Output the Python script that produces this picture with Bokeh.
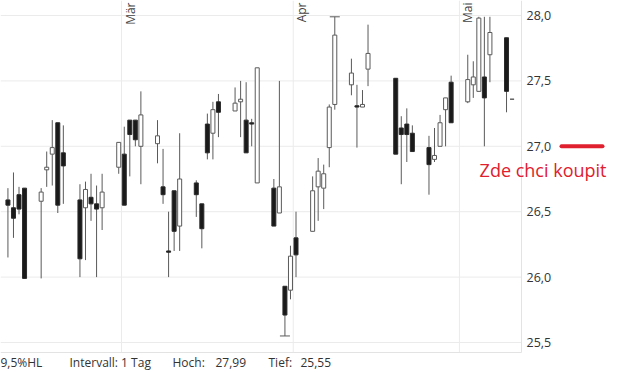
import math
import numpy as np
import pandas as pd
from bokeh.plotting import figure
from bokeh.models import Range1d, ColumnDataSource
from bokeh.core.properties import value
from bokeh.embed import file_html
from bokeh.resources import INLINE

# ---------------- data ----------------
dates = ["2022-02-08", "2022-02-09", "2022-02-10", "2022-02-11", "2022-02-14",
         "2022-02-15", "2022-02-16", "2022-02-17", "2022-02-18", "2022-02-21",
         "2022-02-22", "2022-02-23", "2022-02-24", "2022-02-25", "2022-02-28",
         "2022-03-01", "2022-03-02", "2022-03-03", "2022-03-04", "2022-03-07",
         "2022-03-08", "2022-03-09", "2022-03-10", "2022-03-11", "2022-03-14",
         "2022-03-15", "2022-03-16", "2022-03-17", "2022-03-18", "2022-03-21",
         "2022-03-22", "2022-03-23", "2022-03-24", "2022-03-25", "2022-03-28",
         "2022-03-29", "2022-03-30", "2022-03-31", "2022-04-01", "2022-04-04",
         "2022-04-05", "2022-04-06", "2022-04-07", "2022-04-08", "2022-04-11",
         "2022-04-12", "2022-04-13", "2022-04-14", "2022-04-19", "2022-04-20",
         "2022-04-21", "2022-04-22", "2022-04-25", "2022-04-26", "2022-04-27",
         "2022-04-28", "2022-04-29", "2022-05-02", "2022-05-03", "2022-05-04",
         "2022-05-05", "2022-05-06", "2022-05-09", "2022-05-10"]
open_ = [26.59, 26.53, 26.63, 26.68, 26.58, 26.82, 26.94, 27.18, 26.95, 26.59,
         26.53, 26.61, 26.56, 26.53, 26.84, 26.94, 27.20, 27.20, 27.00, 27.02,
         26.69, 26.20, 26.66, 26.39, 26.72, 26.56, 27.17, 27.10, 27.34, 27.27,
         27.34, 27.20, 27.18, 26.72, 26.68, 26.49, 25.93, 25.90, 26.30, 26.35,
         26.69, 26.68, 26.99, 27.32, 27.47, 27.31, 27.30, 27.59, 27.52, 27.14,
         27.17, 27.10, 26.99, 26.90, 27.00, 27.28, 27.49, 27.34, 27.47, 27.42,
         27.53, 27.70, 27.83, 27.36]
high = [26.68, 26.80, 26.69, 26.68, 26.68, 26.96, 27.20, 27.18, 27.16, 26.71,
        26.73, 26.79, 26.70, 26.79, 27.03, 27.15, 27.20, 27.20, 27.42, 27.20,
        26.98, 26.50, 26.66, 27.10, 26.74, 26.56, 27.25, 27.34, 27.40, 27.45,
        27.50, 27.49, 27.21, 27.60, 26.75, 27.50, 25.93, 26.24, 26.50, 26.77,
        26.91, 26.86, 27.32, 27.99, 27.67, 27.47, 27.43, 27.93, 27.52, 27.23,
        27.29, 27.16, 27.08, 27.14, 27.24, 27.37, 27.54, 27.70, 27.65, 27.99,
        27.99, 27.99, 27.83, 27.36]
low = [26.15, 26.30, 26.48, 25.99, 25.99, 26.69, 26.70, 26.49, 26.56, 26.00,
       26.13, 26.43, 26.00, 26.36, 26.79, 26.55, 26.77, 27.00, 26.71, 26.87,
       26.56, 26.00, 26.20, 26.20, 26.46, 26.22, 26.90, 26.90, 27.07, 27.27,
       27.07, 26.95, 27.00, 26.72, 26.39, 26.49, 25.55, 25.83, 26.00, 26.35,
       26.43, 26.52, 26.84, 27.28, 27.39, 26.99, 27.30, 27.46, 26.94, 26.71,
       26.88, 26.96, 26.63, 26.88, 27.00, 27.00, 27.18, 27.33, 27.37, 27.42,
       27.00, 27.49, 27.26, 27.36]
close = [26.55, 26.45, 26.52, 25.99, 26.65, 26.84, 26.99, 26.55, 26.85, 26.14,
         26.67, 26.56, 26.52, 26.65, 27.03, 26.55, 27.09, 27.05, 27.24, 27.08,
         26.63, 26.19, 26.35, 26.75, 26.63, 26.37, 26.95, 27.28, 27.26, 27.33,
         27.36, 26.95, 27.17, 27.60, 26.39, 26.69, 25.71, 26.16, 26.17, 26.66,
         26.81, 26.79, 27.30, 27.85, 27.56, 27.30, 27.32, 27.71, 26.94, 27.09,
         27.09, 26.96, 26.86, 26.93, 27.18, 27.37, 27.18, 27.51, 27.53, 27.98,
         27.37, 27.87, 27.42, 27.36]
month_starts = ["2022-03-01", "2022-04-01", "2022-05-01"]
month_labels = ["Mär", "Apr", "Mai"]
y_ticks = [25.5, 26.0, 26.5, 27.0, 27.5, 28.0]
target_price = 27.0
target_text = "Zde chci koupit"
footer_left = "9,5%HL"
footer_interval = "Intervall: 1 Tag"

# ---------------- layout constants (pixels) ----------------
W, H = 620, 372
PANE_W, PANE_H = 521, 352     # price pane (right/bottom border)
DAY_MS = 86400000.0
DAY_PX = 5.54                 # pixels per calendar day
REF_PX = 121                  # pixel of the first month boundary
UNIT_PX = 130.8               # pixels per price unit
TOP_PX_28 = 15                # pixel of price 28.0

ref_ms = pd.Timestamp(month_starts[0]).value / 1e6
ms_per_px = DAY_MS / DAY_PX
x_start = ref_ms - REF_PX * ms_per_px
x_end = x_start + W * ms_per_px
y_end = 28.0 + TOP_PX_28 / UNIT_PX
y_start = y_end - H / UNIT_PX


def x_at(px):
    return x_start + px * ms_per_px


def y_at(py):
    return y_end - py / UNIT_PX


pane_right = x_at(PANE_W)
pane_bottom = y_at(PANE_H)

p = figure(width=W, height=H, output_backend="svg", toolbar_location=None,
           x_axis_location=None, y_axis_location=None,
           x_range=Range1d(x_start, x_end), y_range=Range1d(y_start, y_end),
           min_border=0)
p.outline_line_color = None
p.xgrid.visible = False
p.ygrid.visible = False
p.background_fill_color = "white"
p.border_fill_color = "white"

GRID = "#ebebeb"
# horizontal grid lines at price ticks
p.segment(x0=[x_start] * len(y_ticks), y0=y_ticks, x1=[pane_right] * len(y_ticks),
          y1=y_ticks, line_color=GRID, line_width=1)
# vertical grid lines at month boundaries
month_ms = [pd.Timestamp(d).value / 1e6 for d in month_starts]
p.segment(x0=month_ms, y0=[pane_bottom] * 3, x1=month_ms, y1=[y_end] * 3,
          line_color=GRID, line_width=1)
# pane border (right + bottom)
p.segment(x0=[pane_right, x_start], y0=[pane_bottom, pane_bottom],
          x1=[pane_right, pane_right], y1=[y_end, pane_bottom],
          line_color="#e3e3e3", line_width=1)

# price labels on the right
p.text(x=[x_at(PANE_W + 5)] * len(y_ticks), y=y_ticks,
       text=[f"{t:.1f}".replace(".", ",") for t in y_ticks],
       text_align="left", text_baseline="middle", text_font=value("Open Sans"),
       text_font_size="12.5px", text_color="#333333")

# ---------------- candles ----------------
x = np.array([pd.Timestamp(d).value / 1e6 + DAY_MS / 2 for d in dates])
o = np.array(open_); h = np.array(high); l = np.array(low); c = np.array(close)
up = c >= o
body_w = 4.0 * ms_per_px

p.segment(x0=x, y0=h, x1=x, y1=l, line_color="#5a5a5a", line_width=1)
src_up = ColumnDataSource(dict(x=x[up], top=c[up], bottom=o[up]))
src_dn = ColumnDataSource(dict(x=x[~up], top=o[~up], bottom=c[~up]))
p.vbar(x="x", top="top", bottom="bottom", width=body_w, source=src_up,
       fill_color="white", line_color="#5a5a5a", line_width=1)
p.vbar(x="x", top="top", bottom="bottom", width=body_w, source=src_dn,
       fill_color="#1a1a1a", line_color="#2a2a2a", line_width=1)

# period high / low markers
ih = int(np.argmax(h)); il = int(np.argmin(l))
cap_w = 10 * ms_per_px
p.segment(x0=[x[ih] - cap_w / 2, x[il] - cap_w / 2], y0=[h[ih], l[il]],
          x1=[x[ih] + cap_w / 2, x[il] + cap_w / 2], y1=[h[ih], l[il]],
          line_color="#5a5a5a", line_width=1)

# month labels (rotated, at top next to the month line)
p.text(x=month_ms, y=[y_end] * len(month_ms), text=month_labels, angle=math.pi / 2,
       text_align="right", text_baseline="top", x_offset=0, y_offset=2,
       text_font=value("Open Sans"), text_font_size="12px", text_color="#444444")

# target line + text
RED = "#e0202e"
p.segment(x0=[x_at(561)], y0=[target_price], x1=[x_at(602)], y1=[target_price],
          line_color=RED, line_width=4, line_cap="round")
p.text(x=[x_at(606)], y=[y_at(169)], text=[target_text], text_align="right",
       text_baseline="middle", text_font=value("Open Sans"),
       text_font_size="18px", text_color=RED)

# footer
fmt = lambda v: f"{v:.2f}".replace(".", ",")
footer_px = [0, 69, 172, 215, 268, 300]
footer_txt = [footer_left, footer_interval, "Hoch:", fmt(h.max()), "Tief:", fmt(l.min())]
p.text(x=[x_at(v) for v in footer_px], y=[y_at(362)] * len(footer_px), text=footer_txt,
       text_align="left", text_baseline="middle", text_font=value("Open Sans"),
       text_font_size="12px", text_color="#333333")

open("out.html", "w").write(file_html(p, INLINE))
